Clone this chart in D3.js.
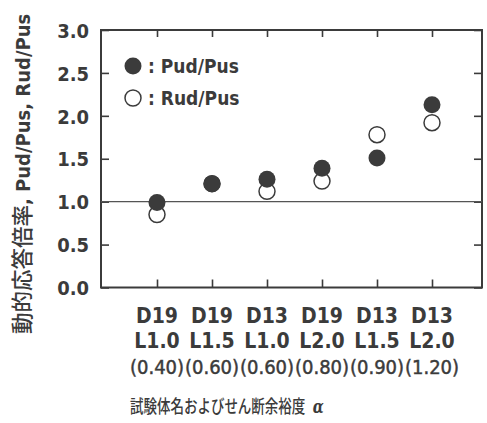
<!DOCTYPE html>
<html>
<head>
<meta charset="utf-8">
<script src="https://cdn.jsdelivr.net/npm/d3@7"></script>
<style>
  html, body { margin: 0; padding: 0; background: #fff; }
  svg { display: block; }
</style>
</head>
<body>
<svg id="chart" width="487" height="423"></svg>
<script>
// Specimens (bar diameter / length ratio) and their shear margin α
const specimens = ["D19", "D19", "D13", "D19", "D13", "D13"];
const lengths   = ["L1.0", "L1.5", "L1.0", "L2.0", "L1.5", "L2.0"];
const alphas    = ["0.40", "0.60", "0.60", "0.80", "0.90", "1.20"];

// Dynamic response magnification ratios
const pudPus = [0.99, 1.21, 1.26, 1.39, 1.51, 2.13];
const rudPus = [0.85, 1.21, 1.12, 1.24, 1.78, 1.92];

const yTicks = [0, 0.5, 1.0, 1.5, 2.0, 2.5, 3.0];

const ink = "#3b3b3b";
const latin = "'DejaVu Sans Condensed', 'DejaVu Sans', sans-serif";
const cjk = "'Noto Sans CJK JP', 'Noto Sans CJK SC', sans-serif";

const svg = d3.select("#chart");
const frame = { left: 101, right: 482, top: 30, bottom: 287.5 };

const idx = d3.range(specimens.length);
const x = d3.scalePoint().domain(idx).range([157, 432]);
const y = d3.scaleLinear().domain([0, 3]).range([frame.bottom, frame.top]);

// Axes with inward ticks on all four sides
const fmt = d3.format(".1f");
const axisL = svg.append("g")
  .attr("transform", `translate(${frame.left},0)`)
  .call(d3.axisLeft(y).tickValues(yTicks).tickFormat(fmt).tickSizeInner(-8).tickSizeOuter(0).tickPadding(12));
const axisR = svg.append("g")
  .attr("transform", `translate(${frame.right},0)`)
  .call(d3.axisRight(y).tickValues(yTicks).tickFormat("").tickSizeInner(-8).tickSizeOuter(0));
const axisT = svg.append("g")
  .attr("transform", `translate(0,${frame.top})`)
  .call(d3.axisTop(x).tickFormat("").tickSizeInner(-7).tickSizeOuter(0));
const axisB = svg.append("g")
  .attr("transform", `translate(0,${frame.bottom})`)
  .call(d3.axisBottom(x).tickFormat("").tickSizeInner(-8).tickSizeOuter(0));

[axisL, axisR, axisT, axisB].forEach(g => {
  g.select(".domain").remove();
  g.selectAll(".tick line").attr("stroke", ink).attr("stroke-width", 1.6);
});
axisL.selectAll(".tick text")
  .attr("fill", ink)
  .attr("font-family", latin)
  .attr("font-weight", "bold")
  .attr("font-size", 20)
  .attr("dy", "0.36em");

// Plot frame
svg.append("rect")
  .attr("x", frame.left).attr("y", frame.top)
  .attr("width", frame.right - frame.left)
  .attr("height", frame.bottom - frame.top)
  .attr("fill", "none")
  .attr("stroke", ink)
  .attr("stroke-width", 2);

// Reference line at ratio 1.0
svg.append("line")
  .attr("x1", frame.left).attr("x2", frame.right)
  .attr("y1", y(1)).attr("y2", y(1))
  .attr("stroke", "#555").attr("stroke-width", 1.2);

// Rud/Pus (open) drawn first, Pud/Pus (filled) on top
svg.append("g").selectAll("circle")
  .data(idx)
  .join("circle")
  .attr("cx", i => x(i))
  .attr("cy", i => y(rudPus[i]))
  .attr("r", 8)
  .attr("fill", "#fff")
  .attr("stroke", ink)
  .attr("stroke-width", 1.5);

svg.append("g").selectAll("circle")
  .data(idx)
  .join("circle")
  .attr("cx", i => x(i))
  .attr("cy", i => y(pudPus[i]))
  .attr("r", 8.5)
  .attr("fill", ink);

// Legend
const legend = svg.append("g");
legend.append("circle").attr("cx", 133).attr("cy", 66).attr("r", 8.5).attr("fill", ink);
legend.append("circle").attr("cx", 133).attr("cy", 98).attr("r", 8)
  .attr("fill", "#fff").attr("stroke", ink).attr("stroke-width", 1.5);
legend.selectAll("text")
  .data([": Pud/Pus", ": Rud/Pus"])
  .join("text")
  .attr("x", 148)
  .attr("y", (d, i) => 73 + i * 32)
  .attr("fill", ink)
  .attr("font-family", latin)
  .attr("font-weight", "bold")
  .attr("font-size", 19)
  .text(d => d);

// Category labels below the axis
const cat = svg.append("g").selectAll("g")
  .data(idx)
  .join("g")
  .attr("transform", i => `translate(${x(i)},0)`)
  .attr("text-anchor", "middle")
  .attr("fill", ink)
  .attr("font-family", latin);
cat.append("text").attr("y", 323).attr("font-weight", "bold").attr("font-size", 21)
  .text(i => specimens[i]);
cat.append("text").attr("y", 348).attr("font-weight", "bold").attr("font-size", 21)
  .text(i => lengths[i]);
cat.append("text").attr("y", 374).attr("font-size", 20)
  .attr("stroke", ink).attr("stroke-width", 0.45)
  .text(i => `(${alphas[i]})`);

// X-axis title (narrow CJK setting)
const xt = svg.append("text")
  .attr("transform", "translate(130,413) scale(0.75,1)")
  .attr("fill", ink)
  .attr("font-family", cjk)
  .attr("font-weight", 500)
  .attr("font-size", 18);
xt.append("tspan").text("試験体名およびせん断余裕度");
xt.append("tspan").attr("dx", 10).attr("font-family", "'DejaVu Serif', serif")
  .attr("font-style", "italic").attr("font-weight", "bold").attr("font-size", 19).text("α");

// Y-axis title (rotated)
const yt = svg.append("text")
  .attr("transform", "translate(30,334) rotate(-90)")
  .attr("fill", ink);
yt.append("tspan").attr("font-family", cjk).attr("font-size", 21.5).attr("font-weight", 500)
  .text("動的応答倍率");
yt.append("tspan").attr("font-family", latin).attr("font-weight", "bold").attr("font-size", 20)
  .text(", Pud/Pus, Rud/Pus");
</script>
</body>
</html>
